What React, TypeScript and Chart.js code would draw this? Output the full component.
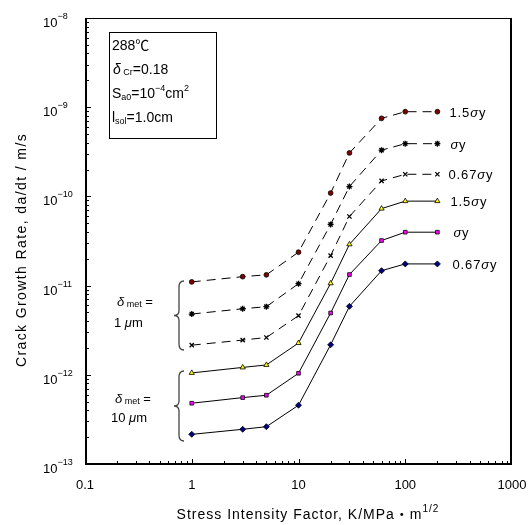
import React, { useEffect, useRef } from "react";
import { Chart, registerables } from "chart.js";

Chart.register(...registerables);

// ---- data ----
const K = [1, 3, 5, 10, 20, 30, 60, 100, 200];
const met1_15sy = [1.1e-11, 1.26e-11, 1.32e-11, 2.37e-11, 1.09e-10, 3.07e-10, 7.5e-10, 8.9e-10, 8.9e-10];
const met1_sy = [4.8e-12, 5.5e-12, 5.8e-12, 1.05e-11, 4.85e-11, 1.29e-10, 3.3e-10, 3.9e-10, 3.9e-10];
const met1_067sy = [2.15e-12, 2.45e-12, 2.62e-12, 4.6e-12, 2.17e-11, 5.95e-11, 1.49e-10, 1.77e-10, 1.77e-10];
const met10_15sy = [1.05e-12, 1.21e-12, 1.29e-12, 2.27e-12, 1.06e-11, 2.9e-11, 7.3e-11, 8.85e-11, 8.85e-11];
const met10_sy = [4.8e-13, 5.55e-13, 5.9e-13, 1.04e-12, 4.93e-12, 1.33e-11, 3.2e-11, 3.97e-11, 3.97e-11];
const met10_067sy = [2.15e-13, 2.45e-13, 2.62e-13, 4.56e-13, 2.17e-12, 5.85e-12, 1.47e-11, 1.75e-11, 1.75e-11];

const seriesPrefix = ["1.5", "", "0.67", "1.5", "", "0.67"];
const xTickValues = [0.1, 1, 10, 100, 1000];
const xTickLabels = ["0.1", "1", "10", "100", "1000"];
const yTickExps = [-13, -12, -11, -10, -9, -8];

const FAMILY = '"Liberation Sans", Arial, "Noto Sans CJK JP", sans-serif';
const f = (size: number, italic = false) => `${italic ? "italic " : ""}${size}px ${FAMILY}`;

type Part = { t: string; size?: number; italic?: boolean; dy?: number };

function drawRich(
  ctx: CanvasRenderingContext2D,
  x: number,
  y: number,
  parts: Part[],
  align: "left" | "center" = "left",
  base = 13,
  spacing = 0
) {
  (ctx as any).letterSpacing = spacing + "px";
  let w = 0;
  for (const p of parts) {
    ctx.font = f(p.size ?? base, p.italic);
    w += ctx.measureText(p.t).width;
  }
  let cx = align === "center" ? x - w / 2 : x;
  for (const p of parts) {
    ctx.font = f(p.size ?? base, p.italic);
    ctx.fillText(p.t, cx, y + (p.dy ?? 0));
    cx += ctx.measureText(p.t).width;
  }
  (ctx as any).letterSpacing = "0px";
}

function drawBrace(ctx: CanvasRenderingContext2D, xr: number, top: number, bottom: number) {
  const mid = (top + bottom) / 2;
  const xm = xr - 5;
  const xt = xr - 10;
  ctx.beginPath();
  ctx.moveTo(xr, top);
  ctx.quadraticCurveTo(xm, top, xm, top + 6);
  ctx.lineTo(xm, mid - 5);
  ctx.quadraticCurveTo(xm, mid, xt, mid);
  ctx.quadraticCurveTo(xm, mid, xm, mid + 5);
  ctx.lineTo(xm, bottom - 6);
  ctx.quadraticCurveTo(xm, bottom, xr, bottom);
  ctx.stroke();
}

const decorPlugin = {
  id: "decor",
  afterDatasetsDraw(chart: any) {
    const ctx: CanvasRenderingContext2D = chart.ctx;
    const xs = chart.scales.x;
    const ys = chart.scales.y;
    const { left, right, top, bottom } = chart.chartArea;
    ctx.save();
    ctx.fillStyle = "#000";
    ctx.strokeStyle = "#000";

    // frame
    ctx.lineWidth = 1;
    ctx.beginPath();
    ctx.moveTo(left, top + 0.5);
    ctx.lineTo(right, top + 0.5);
    ctx.stroke();
    ctx.lineWidth = 2;
    ctx.beginPath();
    ctx.moveTo(right - 1, top);
    ctx.lineTo(right - 1, bottom);
    ctx.stroke();
    ctx.beginPath();
    ctx.moveTo(left + 1, top);
    ctx.lineTo(left + 1, bottom);
    ctx.lineTo(right, bottom);
    ctx.stroke();

    // inward ticks
    ctx.lineWidth = 1;
    ctx.beginPath();
    for (let e = -1; e <= 2; e++) {
      for (let m = 1; m <= 9; m++) {
        const v = m * Math.pow(10, e);
        const px = Math.round(xs.getPixelForValue(v)) + 0.5;
        const len = m === 1 ? 5 : 3;
        ctx.moveTo(px, bottom);
        ctx.lineTo(px, bottom - len);
      }
    }
    for (let e = -13; e <= -9; e++) {
      for (let m = 1; m <= 9; m++) {
        const v = m * Math.pow(10, e);
        const py = Math.round(ys.getPixelForValue(v)) + 0.5;
        const len = m === 1 ? 5 : 3;
        ctx.moveTo(left + 1, py);
        ctx.lineTo(left + 1 + len, py);
      }
    }
    ctx.stroke();

    // x tick labels
    ctx.textBaseline = "alphabetic";
    ctx.textAlign = "left";
    xTickValues.forEach((v, i) => {
      drawRich(ctx, xs.getPixelForValue(v), 489, [{ t: xTickLabels[i] }], "center", 13);
    });
    // y tick labels
    yTickExps.forEach((e) => {
      const py = ys.getPixelForValue(Math.pow(10, e));
      ctx.font = f(13);
      ctx.fillText("10", 43, py + 9);
      ctx.font = f(9);
      ctx.fillText("\u2212" + String(-e), 57.5, py + 1);
    });

    // axis titles
    drawRich(
      ctx,
      308,
      519,
      [
        { t: "Stress Intensity Factor, K/MPa\u30FBm" },
        { t: "1/2", size: 10, dy: -7 },
      ],
      "center",
      14,
      1
    );
    ctx.save();
    ctx.translate(21, 250);
    ctx.rotate(-Math.PI / 2);
    drawRich(ctx, 0, 5, [{ t: "Crack Growth Rate, da/dt / m/s" }], "center", 14, 1.4);
    ctx.restore();

    // info box
    ctx.lineWidth = 1;
    ctx.strokeStyle = "#000";
    ctx.strokeRect(109.5, 32.5, 107, 106);
    drawRich(ctx, 112, 50, [{ t: "288\u2103" }], "left", 14);
    drawRich(
      ctx,
      113,
      74,
      [
        { t: "\u03B4", italic: true },
        { t: " Cr", size: 9, dy: 1 },
        { t: "=0.18" },
      ],
      "left",
      14
    );
    drawRich(
      ctx,
      112,
      98,
      [
        { t: "S" },
        { t: "a0", size: 9, dy: 2 },
        { t: "=10" },
        { t: "\u22124", size: 9, dy: -7 },
        { t: "cm" },
        { t: "2", size: 9, dy: -7 },
      ],
      "left",
      14
    );
    drawRich(
      ctx,
      112,
      122,
      [
        { t: "l" },
        { t: "sol", size: 9, dy: 2 },
        { t: "=1.0cm" },
      ],
      "left",
      14
    );

    // series labels on the right
    const datasets = chart.data.datasets;
    const xOff = [12, 13, 11, 13, 16, 15];
    datasets.forEach((ds: any, i: number) => {
      const last = ds.data[ds.data.length - 1];
      const px = xs.getPixelForValue(last.x) + xOff[i];
      const py = ys.getPixelForValue(last.y) + 5;
      const parts: Part[] = [];
      if (seriesPrefix[i]) parts.push({ t: seriesPrefix[i] });
      parts.push({ t: "\u03C3", italic: true });
      parts.push({ t: "y" });
      drawRich(ctx, px, py, parts, "left", 13, 0.9);
    });

    // delta_met annotations + braces
    drawRich(
      ctx,
      117,
      306,
      [
        { t: "\u03B4", italic: true },
        { t: " met", size: 9, dy: 1 },
        { t: " =" },
      ],
      "left",
      13
    );
    drawRich(ctx, 114, 327, [{ t: "1 " }, { t: "\u03BC", italic: true }, { t: "m" }], "left", 13);
    drawRich(
      ctx,
      115,
      403,
      [
        { t: "\u03B4", italic: true },
        { t: " met", size: 9, dy: 1 },
        { t: " =" },
      ],
      "left",
      13
    );
    drawRich(ctx, 111, 422, [{ t: "10 " }, { t: "\u03BC", italic: true }, { t: "m" }], "left", 13);

    ctx.strokeStyle = "#444";
    ctx.lineWidth = 1.3;
    drawBrace(ctx, 184, 281, 350);
    drawBrace(ctx, 184, 371, 441);

    ctx.restore();
  },
};

function makeSet(values: number[], dashed: boolean, style: string, color: string, radius: number) {
  const isLine = style === "crossRot" || style === "star";
  return {
    data: K.map((k, i) => ({ x: k, y: values[i] })),
    showLine: true,
    borderColor: "#000",
    borderWidth: 1,
    borderDash: dashed ? [9, 6] : [],
    pointStyle: style,
    pointRadius: radius,
    pointBackgroundColor: color,
    pointBorderColor: "#000",
    pointBorderWidth: isLine ? 1.3 : 0.8,
    fill: false,
    tension: 0,
  };
}

export default function App() {
  const ref = useRef<HTMLCanvasElement | null>(null);
  useEffect(() => {
    document.body.style.margin = "0";
    const canvas = ref.current;
    if (!canvas) return;
    const chart = new Chart(canvas, {
      type: "scatter",
      data: {
        datasets: [
          makeSet(met1_15sy, true, "circle", "#800000", 2.4),
          makeSet(met1_sy, true, "star", "#000", 3),
          makeSet(met1_067sy, true, "crossRot", "#000", 3),
          makeSet(met10_15sy, false, "triangle", "#FFFF00", 3),
          makeSet(met10_sy, false, "rect", "#FF00FF", 2.6),
          makeSet(met10_067sy, false, "rectRot", "#000080", 3),
        ] as any,
      },
      options: {
        animation: false,
        responsive: false,
        maintainAspectRatio: false,
        devicePixelRatio: 1,
        layout: { padding: { left: 85, top: 18, right: 18, bottom: 61 } },
        plugins: { legend: { display: false }, tooltip: { enabled: false } },
        scales: {
          x: { type: "logarithmic", min: 0.1, max: 1000, display: false },
          y: { type: "logarithmic", min: 1e-13, max: 1e-8, display: false },
        },
      },
      plugins: [decorPlugin],
    });
    return () => chart.destroy();
  }, []);
  return <canvas ref={ref} width={530} height={525} style={{ display: "block" }} />;
}
